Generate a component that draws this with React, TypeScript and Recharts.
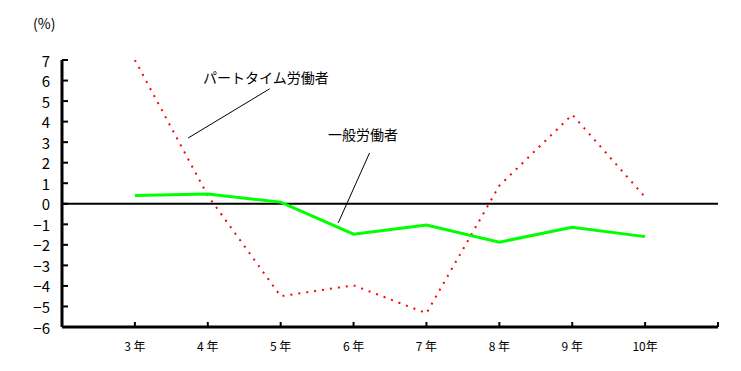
import React from 'react';
import { LineChart, Line, XAxis, YAxis, ReferenceLine } from 'recharts';

const years = [3, 4, 5, 6, 7, 8, 9, 10];
const partTime = [7.0, 0.4, -4.5, -3.97, -5.33, 0.88, 4.34, 0.33];
const general = [0.4, 0.47, 0.08, -1.48, -1.04, -1.87, -1.14, -1.6];
const yTicks = [-6, -5, -4, -3, -2, -1, 0, 1, 2, 3, 4, 5, 6, 7];
const xTicks = [3, 4, 5, 6, 7, 8, 9, 10, 11];

// leader lines for the series labels, in data units
const partTimeLeader = [{ x: 3.73, y: 3.2 }, { x: 4.85, y: 5.6 }];
const generalLeader = [{ x: 6.22, y: 2.48 }, { x: 5.79, y: -0.93 }];

const data = years.map((year, i) => ({
  year,
  partTime: partTime[i],
  general: general[i],
}));

const FONT = '"Noto Sans CJK JP", "Noto Sans", sans-serif';

const YTick = (props: any) => {
  const { x, y, payload } = props;
  return (
    <g>
      <line x1={x} x2={x + 6} y1={y} y2={y} stroke="#000" strokeWidth={2} />
      <text x={x - 12} y={y} textAnchor="end" dominantBaseline="central" fontSize={15} fontFamily={FONT} fill="#000">
        {payload.value < 0 ? `\u2212${-payload.value}` : payload.value}
      </text>
    </g>
  );
};

const XTick = (props: any) => {
  const { x, y, payload } = props;
  const v = payload.value;
  const label = v > 10 ? '' : v < 10 ? `${v} 年` : `${v}年`;
  return (
    <g>
      <line x1={x} x2={x} y1={y} y2={y - 5} stroke="#000" strokeWidth={2} />
      <text x={x} y={y + 18} textAnchor="middle" dominantBaseline="central" fontSize={12} fontFamily={FONT} fill="#000">
        {label}
      </text>
    </g>
  );
};

export default function App() {
  return (
    <div style={{ position: 'absolute', left: 0, top: 0, width: 741, height: 371, background: '#fff' }}>
      <LineChart width={741} height={371} data={data} margin={{ top: 60, right: 23, bottom: 0, left: 0 }}>
        <XAxis
          dataKey="year"
          type="number"
          domain={[2, 11]}
          ticks={xTicks}
          interval={0}
          height={44}
          tickSize={0}
          tickMargin={0}
          tickLine={false}
          axisLine={{ stroke: '#000', strokeWidth: 3 }}
          tick={<XTick />}
        />
        <YAxis
          type="number"
          domain={[-6, 7]}
          ticks={yTicks}
          interval={0}
          width={62}
          tickSize={0}
          tickMargin={0}
          tickLine={false}
          allowDataOverflow
          axisLine={{ stroke: '#000', strokeWidth: 3 }}
          tick={<YTick />}
        />
        <ReferenceLine y={0} stroke="#000" strokeWidth={2} />
        <ReferenceLine segment={partTimeLeader} stroke="#000" strokeWidth={1} />
        <ReferenceLine segment={generalLeader} stroke="#000" strokeWidth={1} />
        <Line
          type="linear"
          dataKey="partTime"
          stroke="#ff0000"
          strokeWidth={2}
          strokeDasharray="2 6"
          dot={false}
          isAnimationActive={false}
        />
        <Line
          type="linear"
          dataKey="general"
          stroke="#00ff00"
          strokeWidth={3}
          dot={false}
          isAnimationActive={false}
        />
      </LineChart>
      <svg width={741} height={371} style={{ position: 'absolute', left: 0, top: 0, pointerEvents: 'none' }}>
        <text x={33} y={23} dominantBaseline="central" fontSize={14} fontFamily={FONT}>(%)</text>
        <text x={203} y={77} dominantBaseline="central" fontSize={14} fontFamily={FONT}>パートタイム労働者</text>
        <text x={328} y={134} dominantBaseline="central" fontSize={14} fontFamily={FONT}>一般労働者</text>
      </svg>
    </div>
  );
}
